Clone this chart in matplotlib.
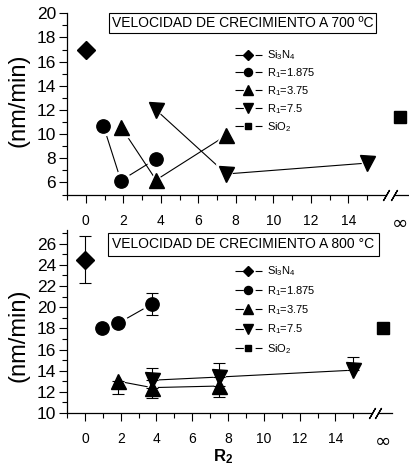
import matplotlib
matplotlib.use('Agg')
import matplotlib.pyplot as plt
from matplotlib.lines import Line2D
from matplotlib.ticker import FixedLocator, MultipleLocator

plt.rcParams['font.family'] = ['Liberation Sans', 'DejaVu Sans']
plt.rcParams['mathtext.fontset'] = 'custom'
plt.rcParams['mathtext.rm'] = 'Liberation Sans'
plt.rcParams['mathtext.it'] = 'Liberation Sans:italic'
plt.rcParams['mathtext.bf'] = 'Liberation Sans:bold'
plt.rcParams['lines.scale_dashes'] = False

# ---------------- data ----------------
series_labels = [r'Si$_3$N$_4$', r'R$_1$=1.875', r'R$_1$=3.75', r'R$_1$=7.5', r'SiO$_2$']
series_markers = ['D', 'o', '^', 'v', 's']
series_ms = [9.5, 9.6, 10.8, 10.8, 8.6]
legend_ms = [4.6, 5.8, 6.5, 6.5, 5.0]

# R2 values
si3n4_x = [0]
r1875_x = [0.94, 1.875, 3.75]
r375_x = [1.875, 3.75, 7.5]
r75_x = [3.75, 7.5, 15]
# SiO2 is at R2 = infinity (drawn past the axis break)

# 700 C growth rate (nm/min)
si3n4_700 = [17.0]
r1875_700 = [10.7, 6.15, 7.95]
r375_700 = [10.6, 6.2, 9.9]
r75_700 = [12.0, 6.7, 7.6]
sio2_700 = [11.4]

# 800 C growth rate (nm/min) and error bars [lower, upper]
si3n4_800 = [24.5]
si3n4_800_err = [[2.2], [2.2]]
r1875_800 = [18.05, 18.5, 20.3]
r1875_800_err = [[0.0, 0.0, 1.0], [0.0, 0.0, 1.0]]
r375_800 = [13.0, 12.4, 12.55]
r375_800_err = [[1.2, 1.0, 1.0], [0.0, 0.0, 0.0]]
r75_800 = [13.1, 13.4, 14.05]
r75_800_err = [[0.0, 0.0, 0.0], [1.2, 1.3, 1.25]]
sio2_800 = [18.0]

xtick_vals = [0, 2, 4, 6, 8, 10, 12, 14]
xtick_labels = [str(v) for v in xtick_vals]

titles = ['VELOCIDAD DE CRECIMIENTO A 700 ºC', 'VELOCIDAD DE CRECIMIENTO A 800 °C']

# ---------------- figure ----------------
W, H = 409, 470
fig = plt.figure(figsize=(W / 100, H / 100), dpi=100)

ax1 = fig.add_axes([67 / W, (H - 194.5) / H, 342 / W, (194.5 - 13.3) / H])
ax2 = fig.add_axes([67 / W, (H - 413) / H, 324.7 / W, (413 - 230) / H])

panel_cfg = [
    dict(ax=ax1, xlim=(-1, 17.24), ylim=(5, 20), yticks=range(6, 21, 2),
         inf=16.78, brk=(16.0, 16.42)),
    dict(ax=ax2, xlim=(-1, 17.14), ylim=(10, 27.3), yticks=range(10, 27, 2),
         inf=16.68, brk=(16.02, 16.38)),
]


def draw_series(ax, xs, ys, errs, marker, ms):
    ax.plot(xs, ys, color='k', lw=0.8, zorder=2, clip_on=False)
    ax.plot(xs, ys, ls='none', marker=marker, ms=ms + 4, color='white',
            mec='white', zorder=3, clip_on=False)
    if errs is not None:
        ax.errorbar(xs, ys, yerr=errs, fmt='none', ecolor='k', elinewidth=0.8,
                    capsize=4, capthick=0.8, zorder=4, clip_on=False)
    ax.plot(xs, ys, ls='none', marker=marker, ms=ms, color='k', mec='k',
            zorder=5, clip_on=False)


for i, cfg in enumerate(panel_cfg):
    ax = cfg['ax']
    inf = cfg['inf']
    if i == 0:
        data = [(si3n4_x, si3n4_700, None), (r1875_x, r1875_700, None),
                (r375_x, r375_700, None), (r75_x, r75_700, None),
                ([inf], sio2_700, None)]
    else:
        data = [(si3n4_x, si3n4_800, si3n4_800_err), (r1875_x, r1875_800, r1875_800_err),
                (r375_x, r375_800, r375_800_err), (r75_x, r75_800, r75_800_err),
                ([inf], sio2_800, None)]
    for (xs, ys, es), m, ms in zip(data, series_markers, series_ms):
        draw_series(ax, xs, ys, es, m, ms)

    ax.set_xlim(*cfg['xlim'])
    ax.set_ylim(*cfg['ylim'])
    for s in ['top', 'right']:
        ax.spines[s].set_visible(False)
    ax.spines['left'].set_linewidth(0.9)
    ax.spines['bottom'].set_linewidth(0.9)
    b0, b1 = cfg['brk']
    ax.spines['bottom'].set_bounds(cfg['xlim'][0], b0)
    y0 = cfg['ylim'][0]
    ax.plot([b1, cfg['xlim'][1]], [y0, y0], color='k', lw=0.9, clip_on=False, zorder=6)
    ax.plot([b0, b1], [y0, y0], ls='none', marker=(2, 2, -30), ms=9, mew=0.9,
            color='k', clip_on=False, zorder=6)

    ax.xaxis.set_major_locator(FixedLocator(xtick_vals + [inf]))
    ax.set_xticklabels(xtick_labels + ['∞'])
    ax.xaxis.set_minor_locator(FixedLocator(list(range(-1, 16, 2))))
    ax.yaxis.set_major_locator(FixedLocator(list(cfg['yticks'])))
    ax.yaxis.set_minor_locator(MultipleLocator(1))
    ax.tick_params(axis='both', which='major', direction='out', length=6, width=0.8)
    ax.tick_params(axis='both', which='minor', direction='out', length=3.3, width=0.8)
    ax.tick_params(axis='x', which='major', labelsize=10, pad=8)
    ax.tick_params(axis='y', which='major', labelsize=12.5, pad=2)
    ax.xaxis.get_major_ticks()[-1].tick1line.set_visible(False)
    lab = ax.get_xticklabels()[-1]
    lab.set_fontsize(14)
    lab.set_family(['DejaVu Sans'])

# title boxes (figure pixel positions)
fig.text(242.5 / W, 1 - 23 / H, titles[0], ha='center', va='center', fontsize=10,
         bbox=dict(boxstyle='square,pad=0.22', fc='white', ec='k', lw=0.8))
fig.text(243.5 / W, 1 - 244.5 / H, titles[1], ha='center', va='center', fontsize=10,
         bbox=dict(boxstyle='square,pad=0.35', fc='white', ec='k', lw=0.8))

# y labels
fig.text(19 / W, 1 - 100 / H, '(nm/min)', rotation=90, ha='center', va='center', fontsize=17)
fig.text(19 / W, 1 - 335 / H, '(nm/min)', rotation=90, ha='center', va='center', fontsize=17)
# x label
fig.text(213 / W, 1 - 461 / H, r'$\mathbf{R_2}$', ha='left', va='baseline', fontsize=12)

# legends
handles = [Line2D([], [], color='k', lw=0.8, ls=(0, (6, 8.5, 6, 100)), marker=m,
                  ms=lm, mfc='k', mec='k')
           for m, lm in zip(series_markers, legend_ms)]
leg_kw = dict(loc='upper left', frameon=False, fontsize=8.0, handlelength=2.42,
              handletextpad=0.45, borderpad=0, borderaxespad=0, numpoints=1)
fig.legend(handles, series_labels, bbox_to_anchor=(235 / W, 1 - 48.5 / H),
           labelspacing=0.36, **leg_kw)
fig.legend(handles, series_labels, bbox_to_anchor=(235 / W, 1 - 264.5 / H),
           labelspacing=0.5, **leg_kw)

fig.savefig('out.png', dpi=100)
